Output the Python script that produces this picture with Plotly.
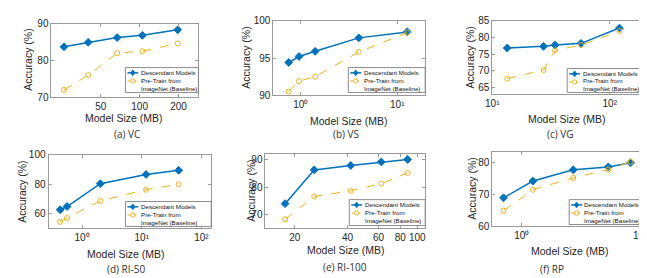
import math
import plotly.graph_objects as go

# ---------------- data ----------------
panel_titles = ["(a) VC", "(b) VS", "(c) VG", "(d) RI-50", "(e) RI-100", "(f) RP"]
series_names = ["Descendant Models", "Pre-Train from<br>ImageNet (Baseline)"]

VC_size = [26, 40, 67, 105, 197]
VC_desc = [83.7, 84.9, 86.2, 86.8, 88.3]
VC_base = [72.0, 76.0, 82.0, 82.5, 84.6]

VS_size = [0.75, 0.96, 1.41, 4.0, 12.7]
VS_desc = [94.4, 95.2, 95.9, 97.7, 98.5]
VS_base = [90.5, 91.9, 92.5, 95.8, 98.4]

VG_size = [13.4, 27.3, 34.2, 57, 121]
VG_desc = [76.8, 77.3, 77.7, 78.2, 82.8]
VG_base = [67.6, 70.2, 76.1, 77.7, 81.9]

RI50_size = [0.43, 0.56, 2.02, 11.8, 41.5]
RI50_desc = [62.6, 64.8, 80.3, 86.6, 89.4]
RI50_base = [54.4, 57.0, 68.6, 76.2, 79.9]

RI100_size = [17.6, 25.8, 41.7, 62.3, 88]
RI100_desc = [74.0, 86.3, 87.9, 89.2, 90.1]
RI100_base = [68.3, 76.6, 78.7, 81.3, 85.2]

RP_size = [0.49, 1.54, 7.4, 29, 69]
RP_desc = [68.9, 74.1, 77.6, 78.5, 79.8]
RP_base = [64.9, 71.4, 75.1, 77.7, 80.1]

# tick labels
VC_xticks = [50, 100, 200]
VC_xtext = ["50", "100", "200"]
VS_xticks = [1, 10]
VS_xtext = ["10⁰", "10¹"]
VG_xticks = [10, 100]
VG_xtext = ["10¹", "10²"]
RI50_xticks = [1, 10, 100]
RI50_xtext = ["10⁰", "10¹", "10²"]
RI100_xticks = [20, 40, 60, 80, 100]
RI100_xtext = ["20", "40", "60", "80", "100"]
RP_xticks = [1, 100]
RP_xtext = ["10⁰", "10²"]

VC_yticks = [70, 80, 90]
VS_yticks = [90, 95, 100]
VG_yticks = [65, 70, 75, 80, 85]
RI50_yticks = [60, 80, 100]
RI100_yticks = [70, 80, 90]
RP_yticks = [60, 70, 80]

# ---------------- layout helpers ----------------
W, H = 647, 278
BLUE = "#0072BD"
YEL = "#EDB120"
AXC = "#9a9a9a"
TXT = "#262626"

panels = [
    dict(x=VC_size, d=VC_desc, b=VC_base, xt=VC_xticks, xtt=VC_xtext, yt=VC_yticks,
         xr=[20.8, 285], yr=[70, 90], box=(37, 186, 10, 87)),
    dict(x=VS_size, d=VS_desc, b=VS_base, xt=VS_xticks, xtt=VS_xtext, yt=VS_yticks,
         xr=[0.52, 19.5], yr=[90, 100], box=(262, 416, 7, 85)),
    dict(x=VG_size, d=VG_desc, b=VG_base, xt=VG_xticks, xtt=VG_xtext, yt=VG_yticks,
         xr=[10, 200], yr=[62.9, 85], box=(484, 639, 7, 84)),
    dict(x=RI50_size, d=RI50_desc, b=RI50_base, xt=RI50_xticks, xtt=RI50_xtext, yt=RI50_yticks,
         xr=[0.274, 146], yr=[50, 100], box=(34, 199, 147, 224)),
    dict(x=RI100_size, d=RI100_desc, b=RI100_base, xt=RI100_xticks, xtt=RI100_xtext, yt=RI100_yticks,
         xr=[13.6, 110.9], yr=[65, 92.2], box=(254, 416, 146, 224)),
    dict(x=RP_size, d=RP_desc, b=RP_base, xt=RP_xticks, xtt=RP_xtext, yt=RP_yticks,
         xr=[0.316, 126], yr=[60, 83.2], box=(484, 640, 144, 222)),
]

title_pos = [(114, 125), (336, 125), (553, 125), (113, 266), (335, 264), (545, 266)]
xlab_pos = [(111, 109), (339, 112), (560, 110), (113, 251), (336, 247), (563, 248)]
ylab_pos = [(13, 48), (234, 46), (461, 46), (7, 186), (239, 185), (464, 183)]
legend_box = [(112, 186, 56, 82), (338, 416, 56, 82), (560, 639, 57, 82),
              (112, 199, 196, 222), (339, 416, 194, 221), (562, 640, 194, 220)]

fig = go.Figure()
annotations = []
shapes = []
layout = dict(
    width=W, height=H, margin=dict(l=0, r=0, t=0, b=0),
    paper_bgcolor="white", plot_bgcolor="white",
    font=dict(family="Liberation Sans, Arial", color=TXT, size=10),
    showlegend=False,
)


def px(xp):
    return xp / W


def py(yp):
    return 1 - yp / H


for i, p in enumerate(panels):
    k = "" if i == 0 else str(i + 1)
    xa, ya = "x" + k, "y" + k
    x0, x1, y0, y1 = p["box"]
    layout["xaxis" + k] = dict(
        type="log", domain=[x0 / W, x1 / W], anchor=ya,
        range=[math.log10(p["xr"][0]), math.log10(p["xr"][1])],
        tickvals=p["xt"], ticktext=p["xtt"], ticks="inside", ticklen=3,
        tickcolor=AXC, showline=True, linecolor=AXC, linewidth=1, mirror="ticks",
        showgrid=False, zeroline=False, tickfont=dict(size=10, color=TXT),
        ticklabeloverflow="allow",
    )
    layout["yaxis" + k] = dict(
        domain=[1 - y1 / H, 1 - y0 / H], anchor=xa, range=p["yr"],
        tickvals=p["yt"], ticks="inside", ticklen=3,
        tickcolor=AXC, showline=True, linecolor=AXC, linewidth=1, mirror="ticks",
        showgrid=False, zeroline=False, tickfont=dict(size=10, color=TXT),
        ticklabeloverflow="allow",
    )
    fig.add_trace(go.Scatter(
        x=p["x"], y=p["d"], mode="lines+markers", name=series_names[0],
        xaxis=xa, yaxis=ya,
        line=dict(color=BLUE, width=1.5),
        marker=dict(symbol="diamond", size=6, color=BLUE,
                    line=dict(color=BLUE, width=1)),
    ))
    fig.add_trace(go.Scatter(
        x=p["x"], y=p["b"], mode="lines+markers", name=series_names[1],
        xaxis=xa, yaxis=ya,
        line=dict(color=YEL, width=1, dash="dash"),
        marker=dict(symbol="circle-open", size=5, color=YEL, line=dict(width=1)),
    ))

    # ---- compact legend (MATLAB style) ----
    lx0, lx1, ly0, ly1 = legend_box[i]
    shapes.append(dict(type="rect", xref="paper", yref="paper",
                       x0=px(lx0), x1=px(lx1), y0=py(ly1), y1=py(ly0),
                       fillcolor="white", line=dict(color="#6e6e6e", width=0.8), layer="above"))
    e1 = ly0 + 5.5
    e2 = ly0 + 14
    shapes.append(dict(type="line", xref="paper", yref="paper",
                       x0=px(lx0 + 2), x1=px(lx0 + 13), y0=py(e1), y1=py(e1),
                       line=dict(color=BLUE, width=1.5), layer="above"))
    cx = lx0 + 7.5
    shapes.append(dict(type="path", xref="paper", yref="paper", layer="above",
                       path="M {a},{b} L {c},{d} L {a},{e} L {f},{d} Z".format(
                           a=px(cx), b=py(e1 - 3), c=px(cx + 2.3), d=py(e1), e=py(e1 + 3), f=px(cx - 2.3)),
                       fillcolor=BLUE, line=dict(color=BLUE, width=0.8)))
    shapes.append(dict(type="line", xref="paper", yref="paper",
                       x0=px(lx0 + 2), x1=px(lx0 + 13), y0=py(e2), y1=py(e2),
                       line=dict(color=YEL, width=1, dash="dot"), layer="above"))
    shapes.append(dict(type="circle", xref="paper", yref="paper", layer="above",
                       x0=px(cx - 2.2), x1=px(cx + 2.2), y0=py(e2 + 2.2), y1=py(e2 - 2.2),
                       fillcolor="white", line=dict(color=YEL, width=1)))
    annotations.append(dict(text=series_names[0], x=px(lx0 + 13.5), y=py(e1), xref="paper", yref="paper",
                            showarrow=False, xanchor="left", yanchor="middle",
                            font=dict(size=6.2, color="#111")))
    annotations.append(dict(text=series_names[1], x=px(lx0 + 13.5), y=py((ly0 + 9 + ly1) / 2),
                            xref="paper", yref="paper", align="left",
                            showarrow=False, xanchor="left", yanchor="middle",
                            font=dict(size=6.2, color="#111")))

    tx, ty = title_pos[i]
    annotations.append(dict(text=panel_titles[i], x=px(tx), y=py(ty), xref="paper", yref="paper",
                            showarrow=False, font=dict(family="Open Sans", size=10, color="#333"),
                            xanchor="center", yanchor="middle"))
    mx, my = xlab_pos[i]
    annotations.append(dict(text="Model Size (MB)", x=px(mx), y=py(my), xref="paper", yref="paper",
                            showarrow=False, font=dict(size=10.5, color=TXT),
                            xanchor="center", yanchor="middle"))
    ax_, ay_ = ylab_pos[i]
    annotations.append(dict(text="Accuracy (%)", x=px(ax_), y=py(ay_), xref="paper", yref="paper",
                            showarrow=False, textangle=-90, font=dict(size=10.5, color=TXT),
                            xanchor="center", yanchor="middle"))

layout["annotations"] = annotations
layout["shapes"] = shapes
fig.update_layout(**layout)
fig.write_html("out.html")
